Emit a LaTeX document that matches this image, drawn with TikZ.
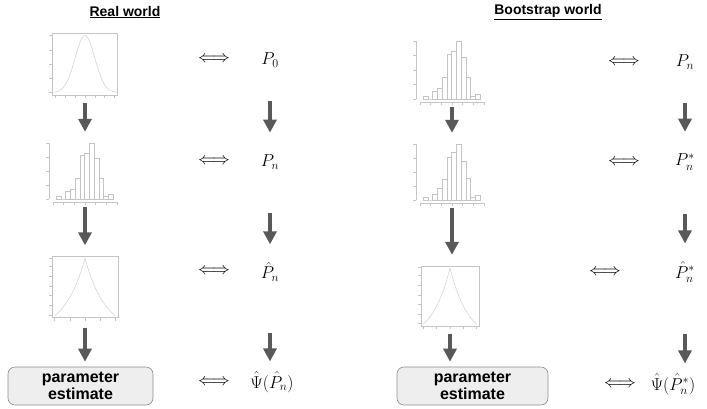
\documentclass[tikz,border=0pt]{standalone}
\usepackage{fontspec}
\setsansfont{Liberation Sans}
\usetikzlibrary{arrows.meta}
\definecolor{arrowgray}{HTML}{595959}
\definecolor{boxfill}{HTML}{EEEEEE}
\definecolor{boxgray}{HTML}{8C8C8C}
\definecolor{plotgray}{HTML}{C4C4C4}
\definecolor{curvegray}{HTML}{CFCFCF}
\newcommand\normpic{%
  \draw[pline] (0,0) rectangle (1,1);
  \foreach \t in {0.04,0.27,0.5,0.73,0.96} \draw[pline] (0,\t) -- (-0.05,\t);
  \foreach \k in {-3,...,3} \draw[pline] ({(\k+3.3)/6.6},0) -- ({(\k+3.3)/6.6},-0.05);
  \draw[cline] plot[domain=-3.2:3.2, samples=70] ({(\x+3.3)/6.6},{0.04+0.92*exp(-\x*\x/2)});
}
\newcommand\lappic{%
  \draw[pline] (0,0) rectangle (1,1);
  \foreach \t in {0.04,0.2,0.36,0.52,0.68,0.84,0.98} \draw[pline] (0,\t) -- (-0.05,\t);
  \foreach \t in {0.04,0.27,0.5,0.73,0.96} \draw[pline] (\t,0) -- (\t,-0.05);
  \draw[cline] plot[domain=-1:1, samples=81] ({0.5+0.46*\x},{0.03+0.94*(exp(-1.5*abs(\x))-exp(-1.5))/(1-exp(-1.5))});
}
\newcommand\histpic[1]{%
  \draw[pline] (-0.06,0) -- (-0.06,1);
  \foreach \t in {0,0.25,0.5,0.75,1} \draw[pline] (-0.06,\t) -- (-0.11,\t);
  \draw[pline] (0,-0.06) -- (1,-0.06);
  \foreach \t in {0,0.165,0.33,0.5,0.665,0.83,1} \draw[pline] (\t,-0.06) -- (\t,-0.11);
  \foreach \h [count=\i from 0] in {#1}
    \draw[bline] ({0.05+\i*0.074},0) rectangle ({0.05+(\i+1)*0.074},{\h/165});
}
\newcommand\drawplot[6]{%
  \node[plotnode, minimum width=#3pt+10pt, minimum height=#4pt+10pt] (#5) at (#1,#2) {};
  \begin{scope}[shift={(#1-#3/2,#2+#4/2)}, x=#3pt, y=#4pt]
    #6
  \end{scope}}
\begin{document}
\begin{tikzpicture}[x=1pt,y=-1pt,
  pline/.style={draw=plotgray, line width=0.4pt},
  cline/.style={draw=curvegray, line width=0.5pt},
  bline/.style={draw=plotgray, line width=0.45pt, fill=white},
  plotnode/.style={inner sep=0pt, draw=none},
  bigarrow/.style={draw=arrowgray, line width=4.5pt, -{Triangle[width=13pt,length=13pt]}},
  eqarrow/.style={font=\fontsize{16}{16}\selectfont, inner sep=0pt},
  mathlbl/.style={font=\fontsize{17}{19}\selectfont, inner sep=1pt},
  estbox/.style={draw=boxgray, fill=boxfill, line width=0.6pt, rounded corners=7pt, minimum height=38pt, font=\sffamily\bfseries\fontsize{16}{17}\selectfont, align=center, inner sep=0pt},
  titletext/.style={font=\sffamily\bfseries\fontsize{14}{16}\selectfont, inner sep=0pt}
]
\useasboundingbox (0,0) rectangle (707,408);
% titles
\node[titletext] (tL) at (125,12) {\underline{Real world}};
\node[titletext] (tR) at (548,12) {\underline{Bootstrap world}};
% left plots
\drawplot{85}{64}{65}{62}{L1}{\normpic}
\drawplot{85}{171}{64}{56}{L2}{\histpic{7,0,22,30,62,128,135,165,120,62,7,15}}
\drawplot{85}{287}{66}{61}{L3}{\lappic}
% right plots
\drawplot{452}{70}{64}{58}{R1}{\histpic{7,0,22,30,62,128,135,165,120,62,7,15}}
\drawplot{452}{172}{64}{56}{R2}{\histpic{7,0,18,34,60,125,140,165,115,65,9,14}}
\drawplot{450}{296}{58}{60}{R3}{\lappic}
% boxes
\node[estbox, minimum width=145pt] (eL) at (80.5,386) {parameter\\estimate};
\node[estbox, minimum width=151pt] (eR) at (472.5,386) {parameter\\estimate};
% labels
\node[mathlbl] (P0) at (270,60) {$P_0$};
\node[mathlbl] (Pn) at (270,162) {$P_n$};
\node[mathlbl] (Ph) at (270,272) {$\hat P_n$};
\node[mathlbl] (Psi) at (272,382) {$\hat\Psi(\hat P_n)$};
\node[mathlbl] (Qn) at (685,62) {$P_n$};
\node[mathlbl] (Qs) at (685,162) {$P_n^*$};
\node[mathlbl] (Qh) at (685,272) {$\hat P_n^*$};
\node[mathlbl] (Qpsi) at (673,384) {$\hat\Psi(\hat P_n^*)$};
% equivalence arrows
\node[eqarrow] (e1) at (214,59) {$\Longleftrightarrow$};
\node[eqarrow] (e2) at (214,161) {$\Longleftrightarrow$};
\node[eqarrow] (e3) at (214,271) {$\Longleftrightarrow$};
\node[eqarrow] (e4) at (214,382) {$\Longleftrightarrow$};
\node[eqarrow] (e5) at (624,62) {$\Longleftrightarrow$};
\node[eqarrow] (e6) at (624,162) {$\Longleftrightarrow$};
\node[eqarrow] (e7) at (605,272) {$\Longleftrightarrow$};
\node[eqarrow] (e8) at (620,384) {$\Longleftrightarrow$};
% vertical arrows, left world
\draw[bigarrow, shorten <=3pt, shorten >=6pt] (L1.south) -- (L1.south |- L2.north);
\draw[bigarrow, shorten <=3pt, shorten >=6pt] (L2.south) -- (L2.south |- L3.north);
\draw[bigarrow, shorten <=5pt, shorten >=5pt] (L3.south) -- (L3.south |- eL.north);
\draw[bigarrow, shorten <=33pt, shorten >=21pt] (P0.south) -- (P0.south |- Pn.north);
\draw[bigarrow, shorten <=43pt, shorten >=17pt] (Pn.south) -- (Pn.south |- Ph.north);
\draw[bigarrow, shorten <=50pt, shorten >=9pt] (Ph.south) -- (Ph.south |- Psi.north);
% vertical arrows, bootstrap world
\draw[bigarrow, shorten <=3pt, shorten >=6pt] (R1.south) -- (R1.south |- R2.north);
\draw[bigarrow, shorten <=3pt, shorten >=6pt] (R2.south) -- (R2.south |- R3.north);
\draw[bigarrow, shorten <=3pt, shorten >=5pt] (R3.south) -- (R3.south |- eR.north);
\draw[bigarrow, shorten <=33pt, shorten >=21pt] (Qn.south) -- (Qn.south |- Qs.north);
\draw[bigarrow, shorten <=43pt, shorten >=17pt] (Qs.south) -- (Qs.south |- Qh.north);
\draw[bigarrow, shorten <=50pt, shorten >=9pt] (Qh.south) -- (Qh.south |- Qpsi.north);
\end{tikzpicture}
\end{document}
